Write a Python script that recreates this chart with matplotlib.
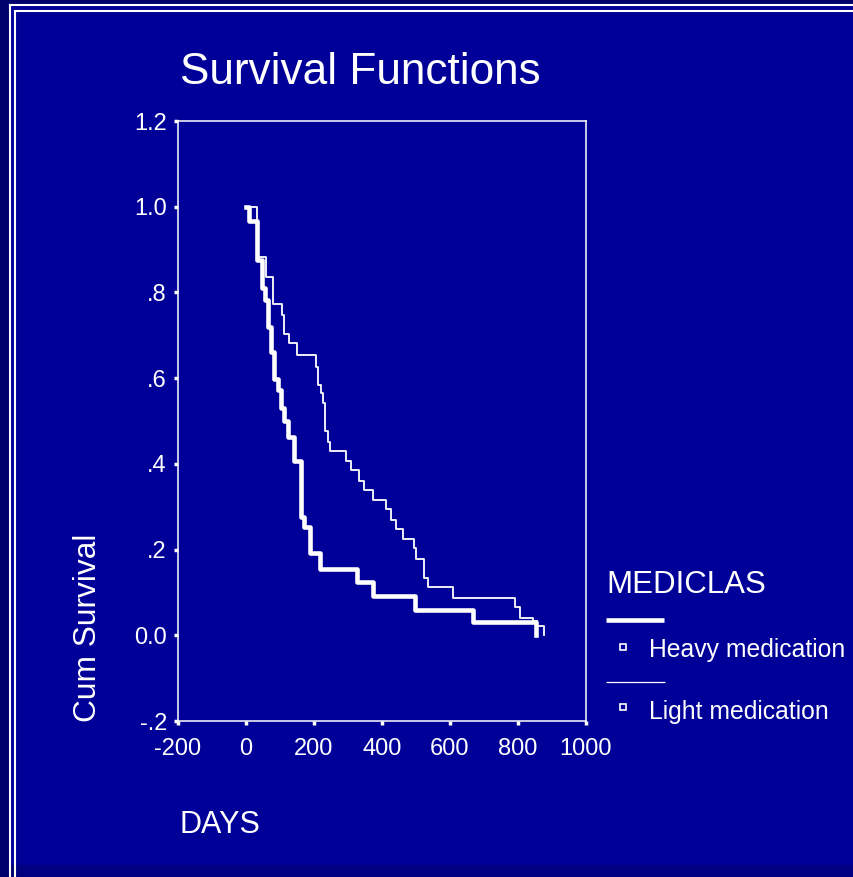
"""Survival Functions (Kaplan-Meier, MEDICLAS)"""

import matplotlib
matplotlib.use("Agg")
import matplotlib.pyplot as plt
from matplotlib.patches import Rectangle
from matplotlib.lines import Line2D

plt.rcParams["font.family"] = ["Liberation Sans", "DejaVu Sans"]

# 데이터
heavy_days = [0, 9, 31, 47, 56, 65, 74, 82, 94, 104, 112, 124, 141, 162, 171,
              188, 218, 327, 374, 497, 668, 853]
heavy_surv = [1.0, 0.967, 0.876, 0.811, 0.783, 0.720, 0.660, 0.597, 0.573, 0.531,
              0.499, 0.462, 0.406, 0.277, 0.252, 0.193, 0.154, 0.124, 0.091, 0.058,
              0.030, 0.0]

light_days = [0, 32, 59, 79, 106, 112, 127, 150, 207, 212, 221, 227, 232, 241, 247,
              294, 309, 332, 347, 374, 412, 427, 441, 462, 494, 500, 524, 535, 609,
              791, 806, 844, 856, 877]
light_surv = [1.0, 0.883, 0.837, 0.772, 0.748, 0.702, 0.681, 0.655, 0.627, 0.583,
              0.566, 0.543, 0.476, 0.452, 0.431, 0.406, 0.385, 0.359, 0.340, 0.315,
              0.294, 0.268, 0.247, 0.224, 0.203, 0.179, 0.133, 0.112, 0.086, 0.065,
              0.040, 0.033, 0.021, 0.0]

x_ticks = [-200, 0, 200, 400, 600, 800, 1000]
y_ticks = [1.2, 1.0, 0.8, 0.6, 0.4, 0.2, 0.0, -0.2]
y_labels = ["1.2", "1.0", ".8", ".6", ".4", ".2", "0.0", "-.2"]
group_names = ["Heavy medication", "Light medication"]

W, H = 854, 877
inner_blue = "#000099"
outer_navy = "#00006c"

fig = plt.figure(figsize=(W / 100, H / 100), dpi=100, facecolor=outer_navy)


def fx(px):
    return px / W


def fy(py):
    return 1 - py / H


# ── 배경 패널 + 이중 테두리 ──
fig.patches.append(Rectangle((fx(10), fy(865)), 1, fy(5) - fy(865),
                             transform=fig.transFigure, facecolor=inner_blue,
                             edgecolor="none", zorder=-10))
# 하단 어두운 띠
fig.patches.append(Rectangle((fx(16), 0), 1, fy(865), transform=fig.transFigure,
                             facecolor="#000080", edgecolor="none", zorder=-10))
for off, top in ((10, 5), (15, 11)):
    fig.add_artist(Line2D([fx(off), fx(off)], [fy(top), 0], color="white", lw=1.5,
                          zorder=-5))
    fig.add_artist(Line2D([fx(off), 1], [fy(top)] * 2, color="white", lw=1.5,
                          zorder=-5))

# ── 축 ──
ax = fig.add_axes([fx(178), fy(721), fx(586) - fx(178), fy(121) - fy(721)])
ax.set_zorder(5)
ax.set_facecolor(inner_blue)
ax.step(heavy_days, heavy_surv, where="post", color="white", lw=3.3)
ax.step(light_days, light_surv, where="post", color="white", lw=1.3)

ax.set_xlim(-200, 1000)
ax.set_ylim(-0.2, 1.2)
ax.set_xticks(x_ticks)
ax.set_xticklabels([str(v) for v in x_ticks])
ax.set_yticks(y_ticks)
ax.set_yticklabels(y_labels)
for sp in ax.spines.values():
    sp.set_color("white")
    sp.set_linewidth(1.1)
ax.tick_params(colors="white", labelsize=17, length=3, width=2.5, direction="out")
ax.tick_params(axis="x", pad=9)
ax.tick_params(axis="y", pad=5)

# ── 텍스트 ──
fig.text(fx(180), fy(83.5), "Survival Functions", color="white", fontsize=31.8,
         ha="left", va="baseline")
fig.text(fx(88), fy(628), "Cum Survival", color="white", fontsize=22.8,
         rotation=90, ha="center", va="center")
fig.text(fx(180), fy(825), "DAYS", color="white", fontsize=22,
         ha="left", va="center")

# ── 범례 ──
fig.text(fx(606), fy(585), "MEDICLAS", color="white", fontsize=22.5,
         ha="left", va="center")
fig.add_artist(Line2D([fx(606), fx(664)], [fy(620)] * 2, color="white", lw=3.3,
                      solid_capstyle="butt"))
fig.add_artist(Line2D([fx(606), fx(665)], [fy(682)] * 2, color="white", lw=0.9,
                      solid_capstyle="butt"))
for y_mark, y_txt, name in [(646.5, 650, group_names[0]), (706.5, 712, group_names[1])]:
    fig.add_artist(Line2D([fx(623.5)], [fy(y_mark)], marker="s", ms=5, mfc="none",
                          mec="white", mew=1.2, ls="none"))
    fig.text(fx(649), fy(y_txt), name, color="white", fontsize=17.8,
             ha="left", va="center")

fig.savefig("out.png", dpi=100, facecolor=fig.get_facecolor())
plt.close(fig)
